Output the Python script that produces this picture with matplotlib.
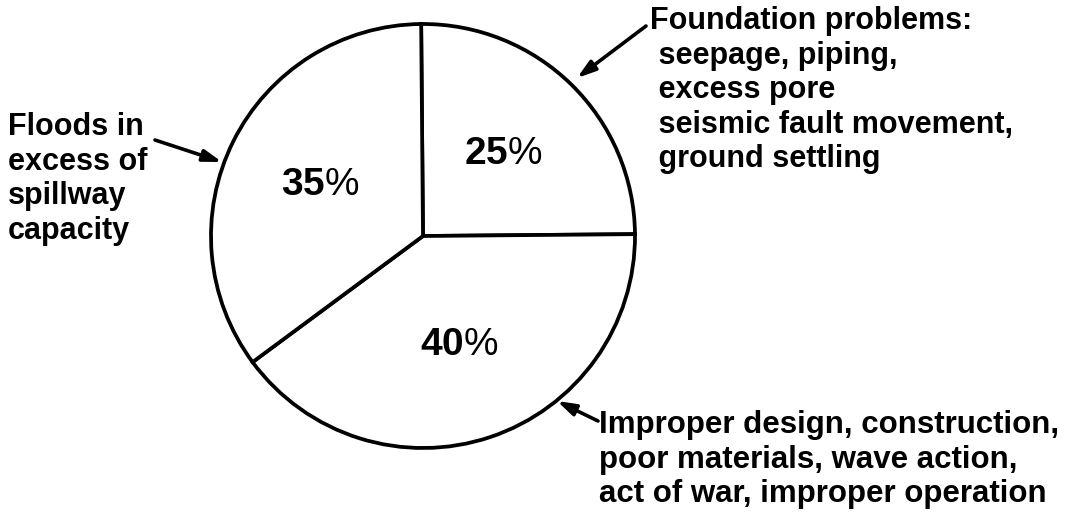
import matplotlib
matplotlib.use("Agg")
import matplotlib.pyplot as plt

# causas de falla de presas (porcentaje)
causas = ["Foundation problems", "Improper design", "Floods"]
porcentajes = [25, 40, 35]

texto_fundacion = ("Foundation problems:\n seepage, piping,\n excess pore\n"
                   " seismic fault movement,\n ground settling")
texto_crecidas = "Floods in\nexcess of\nspillway\ncapacity"
texto_diseno = ("Improper design, construction,\npoor materials, wave action,\n"
                "act of war, improper operation")

plt.rcParams['font.family'] = ['Liberation Sans', 'DejaVu Sans']
plt.rcParams['mathtext.fontset'] = 'custom'
plt.rcParams['mathtext.bf'] = 'Liberation Sans:bold'
plt.rcParams['mathtext.rm'] = 'Liberation Sans'

W, H = 1071, 512
fig = plt.figure(figsize=(W/100, H/100), dpi=100)
ax = fig.add_axes([0, 0, 1, 1])

cx, cy, R = 423, H - 236, 212

ax.pie(porcentajes, startangle=90.5, counterclock=False,
       center=(cx, cy), radius=R,
       colors=['white']*3,
       wedgeprops=dict(edgecolor='black', linewidth=2.7),
       autopct=lambda p: r'$\mathbf{%d}$%%' % round(p),
       pctdistance=0.54,
       textprops=dict(fontsize=28))

ax.set_xlim(0, W)
ax.set_ylim(0, H)
ax.set_aspect('equal')
ax.axis('off')

estilo = dict(fontsize=22, fontweight='bold', color='black', va='top', ha='left')
flecha = dict(arrowstyle='-|>,head_length=1.1,head_width=0.35', color='black',
              lw=2.6, shrinkA=0, shrinkB=0)

ax.text(650, H - 6, texto_fundacion, **estilo)
ax.annotate("", xy=(577, H - 78), xytext=(646, H - 26), arrowprops=flecha)

ax.text(8, H - 112, texto_crecidas, **estilo)
ax.annotate("", xy=(222, H - 162), xytext=(155, H - 140), arrowprops=flecha)

ax.text(599, H - 410, texto_diseno, fontsize=22.5, fontweight='bold',
        color='black', va='top', ha='left')
ax.annotate("", xy=(557, H - 401), xytext=(598, H - 421), arrowprops=flecha)

plt.savefig("out.png", dpi=100)
